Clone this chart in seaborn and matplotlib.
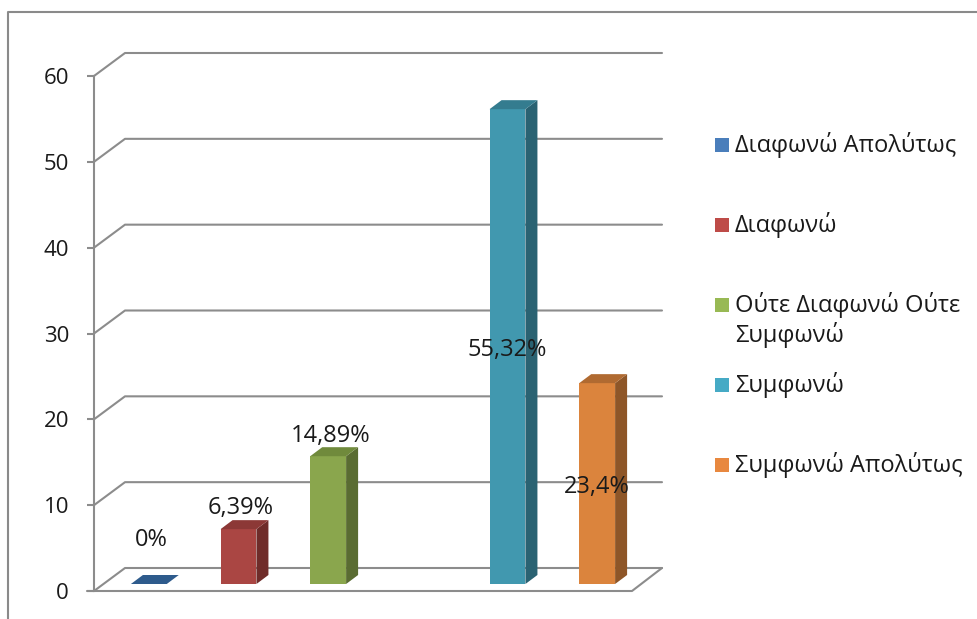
import textwrap

import matplotlib
matplotlib.use("Agg")
import matplotlib.pyplot as plt
import numpy as np
import pandas as pd
import seaborn as sns
from matplotlib.lines import Line2D
from matplotlib.patches import Polygon, Rectangle
from matplotlib.transforms import Affine2D, IdentityTransform

# ---- data -------------------------------------------------------------
categories = [
    "Διαφωνώ Απολύτως",
    "Διαφωνώ",
    "Ούτε Διαφωνώ Ούτε Συμφωνώ",
    "Συμφωνώ",
    "Συμφωνώ Απολύτως",
]
values = [0.0, 6.39, 14.89, 55.32, 23.4]
value_labels = ["0%", "6,39%", "14,89%", "55,32%", "23,4%"]
y_ticks = [0, 10, 20, 30, 40, 50, 60]

# ---- layout / style ---------------------------------------------------
slots = [0, 1, 2, 4, 5]          # series slot 3 stays empty
label_modes = ["out", "out", "out", "center", "center"]
label_lift = [35, 12, 11, 0, 0]  # px above the back top edge (outside labels)

front_colors = ["#2E5B8C", "#AA4643", "#8AA64D", "#4198AF", "#DB843D"]
side_colors = ["#24476E", "#6F2C2A", "#5A6C32", "#2A6272", "#8E5628"]
top_colors = ["#2E5B8C", "#8C3836", "#708A3C", "#347C8F", "#B06A31"]
legend_colors = ["#4A7EBB", "#BE4B48", "#98B954", "#46AAC5", "#E8883F"]
grid_color = "#8C8C8C"
text_color = "#1A1A1A"

# perspective offsets in pixels (x right, y up)
FX, FY = 10, 7     # bar front plane relative to the axis plane
BX, BY = 12, 9     # bar depth
WX, WY = 31, 23    # back wall depth

sns.set_theme(style="white")
plt.rcParams["font.family"] = ["Open Sans", "DejaVu Sans"]

W, H = 977, 619
fig = plt.figure(figsize=(W / 100, H / 100), dpi=100)


def box(l, t, r, b):
    return [l / W, 1 - b / H, (r - l) / W, (b - t) / H]


ax = fig.add_axes(box(94, 76, 632, 591))

df = pd.DataFrame({"slot": slots, "value": values, "category": categories})
sns.barplot(
    data=df, x="slot", y="value", hue="category", hue_order=categories,
    palette=front_colors, native_scale=True, dodge=False, width=0.4,
    saturation=1, legend=False, errorbar=None, ax=ax, zorder=3,
    linewidth=0,
)

ax.set_xlim(-0.5, 5.5)
ax.set_ylim(0, 60)
ax.set_xticks([])
ax.set_yticks(y_ticks)
ax.set_yticklabels([str(t) for t in y_ticks])
ax.set_xlabel("")
ax.set_ylabel("")
for s in ("top", "right", "bottom"):
    ax.spines[s].set_visible(False)
ax.spines["left"].set_color(grid_color)
ax.spines["left"].set_linewidth(1.5)
ax.tick_params(axis="y", left=True, length=5, width=1.5, color=grid_color,
               pad=13, labelsize=16, labelcolor=text_color)
ax.patch.set_alpha(0)


def px(x, y, dx=0.0, dy=0.0):
    X, Y = ax.transData.transform((x, y))
    return np.array([X + dx, Y + dy])


ident = IdentityTransform()
x_lo, x_hi = ax.get_xlim()

# back wall gridlines with their diagonal run to the axis
for v in y_ticks:
    a = px(x_lo, v)
    b = px(x_lo, v, WX, WY)
    c = px(x_hi, v, WX - 1, WY)
    ax.add_line(Line2D([a[0], b[0], c[0]], [a[1], b[1], c[1]], transform=ident,
                       color=grid_color, lw=1.5, clip_on=False, zorder=1))

# floor front and right edges
f0 = px(x_lo, 0)
f1 = px(x_hi, 0)
f2 = px(x_hi, 0, WX - 1, WY)
ax.add_line(Line2D([f0[0] - 7, f1[0], f2[0]], [f0[1], f1[1], f2[1]], transform=ident,
                   color=grid_color, lw=1.5, clip_on=False, zorder=1))

# 3-D boxes built on the seaborn bar faces
slot_index = {s: i for i, s in enumerate(slots)}
bars = [p for p in ax.patches if isinstance(p, Rectangle) and p.get_width() > 0]
for p in bars:
    x0 = p.get_x()
    x1 = x0 + p.get_width()
    h = p.get_height()
    i = slot_index[int(round((x0 + x1) / 2))]
    p.set_transform(ax.transData + Affine2D().translate(FX, FY))
    p.set_clip_on(False)
    p.set_facecolor(front_colors[i])

    fr0 = px(x1, 0, FX, FY)
    tl = px(x0, h, FX, FY)
    tr = px(x1, h, FX, FY)
    d = np.array([BX, BY])
    side = Polygon([fr0, fr0 + d, tr + d, tr], closed=True, transform=ident,
                   facecolor=side_colors[i], edgecolor="none", clip_on=False, zorder=3)
    top = Polygon([tl, tr, tr + d, tl + d], closed=True, transform=ident,
                  facecolor=top_colors[i], edgecolor="none", clip_on=False, zorder=3)
    ax.add_patch(side)
    ax.add_patch(top)

    xc = (x0 + x1) / 2
    if label_modes[i] == "out":
        pos = px(xc, h, FX + 2, FY + BY + label_lift[i])
    else:
        pos = px(xc, h / 2, FX, FY - 3)
    ax.text(pos[0], pos[1], value_labels[i], transform=ident, ha="center",
            va="center", fontsize=17, color=text_color, zorder=5, clip_on=False)

# outer chart frame (top and left edges)
fig.add_artist(Line2D([8 / W, 8 / W, 1.0], [0.0, 1 - 12 / H, 1 - 12 / H],
                      transform=fig.transFigure, color="#8A8A8A", lw=1.5))

# legend
for i, cat in enumerate(categories):
    yc = 145 + 80 * i
    fig.add_artist(Rectangle((715 / W, 1 - (yc + 7) / H), 14 / W, 14 / H,
                             transform=fig.transFigure, facecolor=legend_colors[i],
                             edgecolor="none"))
    for k, line in enumerate(textwrap.wrap(cat, 18)):
        fig.text(735 / W, 1 - (yc + 30 * k) / H, line, ha="left", va="center",
                 fontsize=17, color=text_color)

fig.savefig("out.png", dpi=100, facecolor="white")
